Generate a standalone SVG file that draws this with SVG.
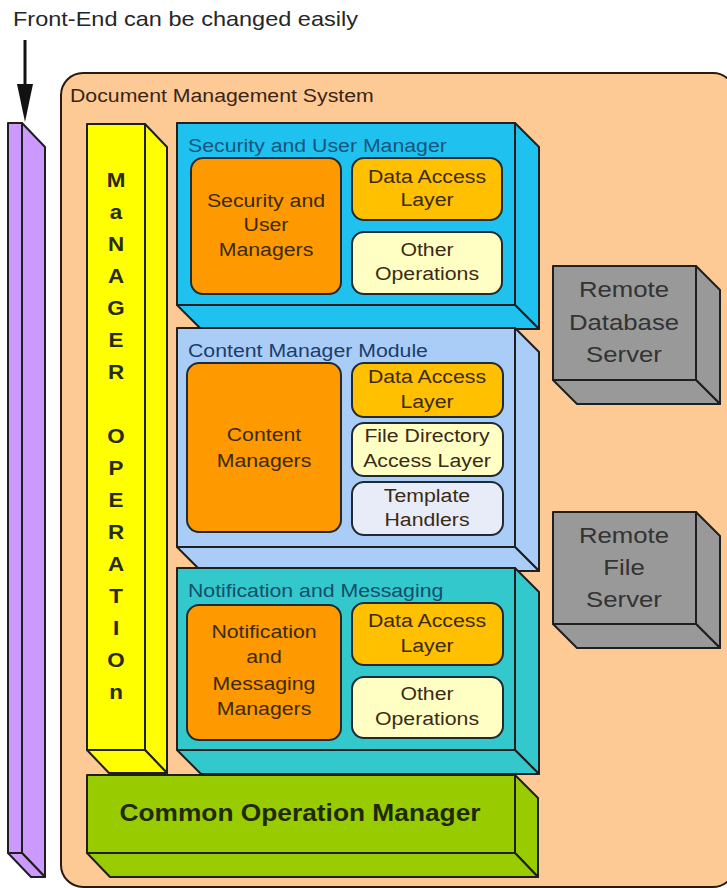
<svg xmlns="http://www.w3.org/2000/svg" width="727" height="888" viewBox="0 0 727 888">
  <style>
    text { font-family: "Liberation Sans", Arial, Helvetica, sans-serif; }
    .edge { stroke: #1f1f1f; stroke-width: 2; stroke-linejoin: round; }
    .soft { stroke: #1f2a33; stroke-width: 2; }
    .note { font-size: 21px; fill: #262626; }
    .sys { font-size: 19px; fill: #3a2414; }
    .ttl { font-size: 19px; }
    .lbl { font-size: 19px; fill: #3b2a14; text-anchor: middle; }
    .srv { font-size: 23px; fill: #333333; text-anchor: middle; }
    .vert { font-size: 20px; font-weight: bold; fill: #2a2a10; text-anchor: middle; }
    .big { font-size: 23.5px; font-weight: bold; fill: #1f2a05; text-anchor: middle; }
    .purple { fill: #cc99ff; }
    .yellow { fill: #ffff00; }
    .cyan { fill: #1fc2ee; }
    .sky { fill: #a9cdf6; }
    .teal { fill: #33c9cc; }
    .green { fill: #99cc00; }
    .gray { fill: #999999; }
    .orange { fill: #ff9900; }
    .gold { fill: #ffc000; }
    .cream { fill: #ffffc4; }
    .pale { fill: #e8ecf8; }
  </style>

  <rect width="727" height="888" fill="#ffffff"/>

  <!-- annotation above the front-end bar -->
  <g id="front-end-note">
    <text class="note" transform="translate(13 26) scale(1.12 1)">Front-End can be changed easily</text>
  </g>

  <!-- system boundary -->
  <g id="document-management-system">
    <rect x="61" y="73" width="674" height="814" rx="22" ry="22" fill="#fdca96" stroke="#2a1a10" stroke-width="2"/>
    <text class="sys" transform="translate(70 102) scale(1.12 1)">Document Management System</text>
  </g>

  <!-- front-end bar -->
  <g id="front-end">
    <polygon class="purple edge" points="22,123 45,147 45,877 22,853" stroke="#3a2060"/>
    <polygon class="purple edge" points="8,853 22,853 45,877 31,877" stroke="#3a2060"/>
    <rect class="purple edge" x="8" y="123" width="14" height="730" stroke="#3a2060"/>
  </g>

  <!-- vertical manager operation column -->
  <g id="manager-operation">
    <polygon class="yellow edge" points="145,124 167,147 167,773 145,750"/>
    <polygon class="yellow edge" points="87,750 145,750 167,773 109,773"/>
    <rect class="yellow edge" x="87" y="124" width="58" height="626"/>
    <text class="vert" transform="translate(116 187) scale(1.12 1)">M</text>
    <text class="vert" transform="translate(116 219) scale(1.12 1)">a</text>
    <text class="vert" transform="translate(116 251) scale(1.12 1)">N</text>
    <text class="vert" transform="translate(116 283) scale(1.12 1)">A</text>
    <text class="vert" transform="translate(116 315) scale(1.12 1)">G</text>
    <text class="vert" transform="translate(116 347) scale(1.12 1)">E</text>
    <text class="vert" transform="translate(116 379) scale(1.12 1)">R</text>
    <text class="vert" transform="translate(116 443) scale(1.12 1)">O</text>
    <text class="vert" transform="translate(116 475) scale(1.12 1)">P</text>
    <text class="vert" transform="translate(116 507) scale(1.12 1)">E</text>
    <text class="vert" transform="translate(116 539) scale(1.12 1)">R</text>
    <text class="vert" transform="translate(116 571) scale(1.12 1)">A</text>
    <text class="vert" transform="translate(116 603) scale(1.12 1)">T</text>
    <text class="vert" transform="translate(116 635) scale(1.12 1)">I</text>
    <text class="vert" transform="translate(116 667) scale(1.12 1)">O</text>
    <text class="vert" transform="translate(116 699) scale(1.12 1)">n</text>
  </g>

  <!-- security and user manager module -->
  <g id="security-user-manager">
    <polygon class="cyan edge" points="515,123 539,147 539,329 515,305" stroke="#0b3550"/>
    <polygon class="cyan edge" points="177,305 515,305 539,329 201,329" stroke="#0b3550"/>
    <rect class="cyan edge" x="177" y="123" width="338" height="182" stroke="#0b3550"/>
    <text class="ttl" fill="#17557e" transform="translate(188 152) scale(1.12 1)">Security and User Manager</text>
    <g id="security-user-managers">
      <rect class="orange soft" x="191" y="158" width="150" height="136" rx="12"/>
      <text class="lbl" transform="translate(266 207) scale(1.12 1)">Security and</text>
      <text class="lbl" transform="translate(266 231) scale(1.12 1)">User</text>
      <text class="lbl" transform="translate(266 256) scale(1.12 1)">Managers</text>
    </g>
    <g id="security-data-access">
      <rect class="gold soft" x="352" y="158" width="150" height="62" rx="12"/>
      <text class="lbl" transform="translate(427 183) scale(1.12 1)">Data Access</text>
      <text class="lbl" transform="translate(427 206) scale(1.12 1)">Layer</text>
    </g>
    <g id="security-other-operations">
      <rect class="cream soft" x="352" y="232" width="150" height="62" rx="12"/>
      <text class="lbl" transform="translate(427 256) scale(1.12 1)">Other</text>
      <text class="lbl" transform="translate(427 280) scale(1.12 1)">Operations</text>
    </g>
  </g>

  <!-- content manager module -->
  <g id="content-manager-module">
    <polygon class="sky edge" points="515,328 539,352 539,571 515,547" stroke="#143a5a"/>
    <polygon class="sky edge" points="177,547 515,547 539,571 201,571" stroke="#143a5a"/>
    <rect class="sky edge" x="177" y="328" width="338" height="219" stroke="#143a5a"/>
    <text class="ttl" fill="#1d3c6c" transform="translate(188 357) scale(1.12 1)">Content Manager Module</text>
    <g id="content-managers">
      <rect class="orange soft" x="187" y="363" width="154" height="169" rx="12"/>
      <text class="lbl" transform="translate(264 441) scale(1.12 1)">Content</text>
      <text class="lbl" transform="translate(264 467) scale(1.12 1)">Managers</text>
    </g>
    <g id="content-data-access">
      <rect class="gold soft" x="352" y="363" width="151" height="54" rx="12"/>
      <text class="lbl" transform="translate(427 383) scale(1.12 1)">Data Access</text>
      <text class="lbl" transform="translate(427 408) scale(1.12 1)">Layer</text>
    </g>
    <g id="file-directory-access">
      <rect class="cream soft" x="352" y="423" width="151" height="53" rx="12"/>
      <text class="lbl" transform="translate(427 442) scale(1.12 1)">File Directory</text>
      <text class="lbl" transform="translate(427 467) scale(1.12 1)">Access Layer</text>
    </g>
    <g id="template-handlers">
      <rect class="pale soft" x="352" y="482" width="151" height="53" rx="12"/>
      <text class="lbl" transform="translate(427 502) scale(1.12 1)">Template</text>
      <text class="lbl" transform="translate(427 526) scale(1.12 1)">Handlers</text>
    </g>
  </g>

  <!-- notification and messaging module -->
  <g id="notification-messaging">
    <polygon class="teal edge" points="515,568 539,592 539,774 515,750" stroke="#0e3c44"/>
    <polygon class="teal edge" points="177,750 515,750 539,774 201,774" stroke="#0e3c44"/>
    <rect class="teal edge" x="177" y="568" width="338" height="182" stroke="#0e3c44"/>
    <text class="ttl" fill="#154d6a" transform="translate(188 597) scale(1.12 1)">Notification and Messaging</text>
    <g id="notification-managers">
      <rect class="orange soft" x="187" y="605" width="154" height="135" rx="12"/>
      <text class="lbl" transform="translate(264 638) scale(1.12 1)">Notification</text>
      <text class="lbl" transform="translate(264 663) scale(1.12 1)">and</text>
      <text class="lbl" transform="translate(264 690) scale(1.12 1)">Messaging</text>
      <text class="lbl" transform="translate(264 715) scale(1.12 1)">Managers</text>
    </g>
    <g id="notification-data-access">
      <rect class="gold soft" x="352" y="603" width="151" height="62" rx="12"/>
      <text class="lbl" transform="translate(427 627) scale(1.12 1)">Data Access</text>
      <text class="lbl" transform="translate(427 652) scale(1.12 1)">Layer</text>
    </g>
    <g id="notification-other-operations">
      <rect class="cream soft" x="352" y="677" width="151" height="61" rx="12"/>
      <text class="lbl" transform="translate(427 700) scale(1.12 1)">Other</text>
      <text class="lbl" transform="translate(427 725) scale(1.12 1)">Operations</text>
    </g>
  </g>

  <!-- common operation manager base -->
  <g id="common-operation-manager">
    <polygon class="green edge" points="515,775 538,798 538,877 515,853" stroke="#2a3a00"/>
    <polygon class="green edge" points="87,853 515,853 538,877 110,877" stroke="#2a3a00"/>
    <rect class="green edge" x="87" y="775" width="428" height="78" stroke="#2a3a00"/>
    <text class="big" transform="translate(300 821) scale(1.12 1)">Common Operation Manager</text>
  </g>

  <!-- remote servers -->
  <g id="remote-database-server">
    <polygon class="gray edge" points="696,266 720,290 720,404 696,380"/>
    <polygon class="gray edge" points="553,380 696,380 720,404 577,404"/>
    <rect class="gray edge" x="553" y="266" width="143" height="114"/>
    <text class="srv" transform="translate(624 297) scale(1.12 1)">Remote</text>
    <text class="srv" transform="translate(624 330) scale(1.12 1)">Database</text>
    <text class="srv" transform="translate(624 362) scale(1.12 1)">Server</text>
  </g>
  <g id="remote-file-server">
    <polygon class="gray edge" points="696,512 720,536 720,648 696,624"/>
    <polygon class="gray edge" points="553,624 696,624 720,648 577,648"/>
    <rect class="gray edge" x="553" y="512" width="143" height="112"/>
    <text class="srv" transform="translate(624 543) scale(1.12 1)">Remote</text>
    <text class="srv" transform="translate(624 575) scale(1.12 1)">File</text>
    <text class="srv" transform="translate(624 607) scale(1.12 1)">Server</text>
  </g>

  <!-- connectors: arrow pointing down onto the front-end bar -->
  <g id="connectors">
    <line x1="25" y1="40" x2="25" y2="88" stroke="#111" stroke-width="3"/>
    <polygon points="17,84 33,84 25,122" fill="#111"/>
  </g>
</svg>
